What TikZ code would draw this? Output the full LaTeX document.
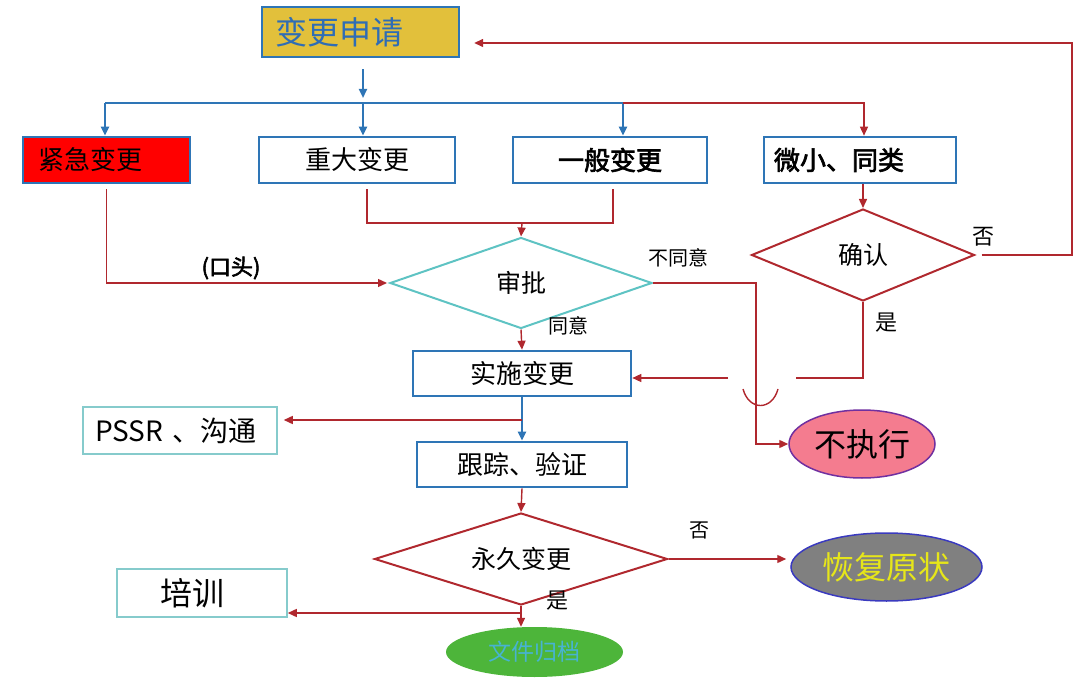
\documentclass[tikz,border=0pt]{standalone}
\usepackage{fontspec}
\setmainfont{Noto Sans CJK SC}
\newfontfamily\boldcjk[FakeBold=2.5]{Noto Sans CJK SC}
\usepackage{tikz}
\usetikzlibrary{arrows.meta, positioning, calc, shapes.geometric}
\definecolor{flowblue}{HTML}{2E75B6}
\definecolor{flowred}{HTML}{B0282E}
\definecolor{flowteal}{HTML}{5EC3C3}
\definecolor{paleteal}{HTML}{86CBCC}
\definecolor{reqgold}{HTML}{E2C03B}
\definecolor{reqtext}{HTML}{2F6DB5}
\definecolor{rejectpink}{HTML}{F47C8F}
\definecolor{rejectedge}{HTML}{7030A0}
\definecolor{restoregray}{HTML}{808080}
\definecolor{restoreedge}{HTML}{3A3ABF}
\definecolor{restoretext}{HTML}{E6E619}
\definecolor{archgreen}{HTML}{4DB53A}
\definecolor{archtext}{HTML}{47B3D2}
\tikzstyle{flowarrow} = [-{Triangle[length=9pt, width=8pt]}]
\newcommand{\fsz}[1]{\fontsize{#1}{#1}\selectfont}

\begin{document}
\begin{tikzpicture}[x=1pt, y=-1pt,
bluebox/.style={draw=flowblue, line width=2.6pt, fill=white, inner sep=0pt, minimum height=46pt, font=\fsz{26}},
tealbox/.style={draw=paleteal, line width=1.5pt, inner sep=0pt, minimum height=48pt},
decision/.style={diamond, aspect=3, draw=flowred, line width=2pt, inner sep=0pt, font=\fsz{25}},
blueline/.style={draw=flowblue, line width=2.2pt},
redline/.style={draw=flowred, line width=1.4pt},
lbl/.style={inner sep=0pt, font=\fsz{20}}
]
    \useasboundingbox (0, 0) rectangle (1080, 690);

    % Request and categories
    \node (req) [draw=flowblue, line width=2.4pt, fill=reqgold, text=reqtext, font=\fsz{32},
        minimum height=50pt, text width=171pt, inner xsep=13pt, inner ysep=0pt, align=left] at (360.5, 32) {变更申请};
    \node (urgent) [bluebox, fill=red, text width=137pt, inner xsep=15pt, align=left] at (106.5, 160) {紧急变更};
    \node (major) [bluebox, minimum width=196pt] at (357, 160) {重大变更};
    \node (general) [bluebox, minimum width=194pt] at (610, 160) {\boldcjk 一般变更};
    \node (minor) [bluebox, text width=172pt, inner xsep=10pt, align=left] at (860, 160) {\boldcjk 微小、同类};

    \coordinate (bus) at (363, 103);
    \coordinate (busL) at (105, 103);
    \coordinate (busM) at (623, 103);
    \coordinate (busR) at (864, 103);
    \draw [blueline, flowarrow, shorten <=11pt, shorten >=5pt] (req.south -| bus) -- (bus);
    \draw [blueline] (busL) -- (busM);
    \draw [blueline, flowarrow] (busL) -- (busL |- urgent.north);
    \draw [blueline, flowarrow] (bus) -- (bus |- major.north);
    \draw [blueline, flowarrow] (busM) -- (busM |- general.north);
    \draw [redline, flowarrow] (busM) -- (busR) -- (busR |- minor.north);

    % Decisions
    \node (confirm) [decision, minimum width=223pt, minimum height=92pt] at (863, 255) {确认};
    \node (approve) [decision, draw=flowteal, minimum width=262pt, minimum height=91pt] at (521, 283) {审批};
    \node (perm) [decision, minimum width=293pt, minimum height=92pt] at (521, 559) {永久变更};

    \draw [redline, flowarrow] (minor.south -| confirm.north) -- (confirm.north);
    \coordinate (ret) at (1072, 43);
    \draw [redline, flowarrow, shorten <=6pt, shorten >=14pt] (confirm.east) -| (ret) -- (ret -| req.east);
    \node [lbl, font=\fsz{22}] at (983, 237) {否};

    \coordinate (mj) at ($(major.south)+(10, 5)$);
    \coordinate (gj) at ($(general.south)+(3, 5)$);
    \coordinate (join) at (522, 223);
    \draw [redline] (mj) |- (gj |- join) -- (gj);
    \draw [redline, flowarrow] (join) -- (approve.north);

    \draw [redline, flowarrow, shorten >=2pt] ($(urgent.south)+(0, 5)$) |- (approve.west);
    \node [lbl, font=\boldcjk\fsz{22}] at (231, 268) {(口头)};

    % Implementation
    \node (impl) [bluebox, minimum width=218pt, minimum height=45pt] at (522, 373.5) {实施变更};
    \node (reject) [ellipse, draw=rejectedge, line width=1.5pt, fill=rejectpink, minimum width=146pt,
        minimum height=68pt, inner sep=0pt, font=\fsz{32}] at (862, 444) {不执行};

    \draw [redline, flowarrow] (approve.south) -- (impl.north);
    \node [lbl] at (568, 326) {同意};
    \node [lbl] at (678, 258) {不同意};
    \coordinate (nope) at (756, 283);
    \draw [redline, flowarrow] (approve.east) -- (nope) |- (reject.west);

    \coordinate (jr) at (796, 378);
    \coordinate (jl) at (728, 378);
    \draw [redline] (confirm.south) |- (jr);
    \draw [redline, flowarrow] (jl) -- (jl -| impl.east);
    \draw [redline] (743, 389) .. controls (749, 411) and (772, 411) .. (778, 389);
    \node [lbl, font=\fsz{22}] at (886, 323) {是};

    % Follow-up
    \node (pssr) [tealbox, text width=170pt, inner xsep=12pt, align=left, minimum height=47pt, font=\fsz{28}] at (180, 430.5) {PSSR 、沟通};
    \node (track) [bluebox, minimum width=210pt, minimum height=45pt] at (522, 464.5) {跟踪、验证};
    \draw [blueline, flowarrow] (impl.south) -- (track.north);
    \coordinate (pj) at (522, 420);
    \draw [redline, flowarrow, shorten >=6pt] (pj) -- (pj -| pssr.east);
    \draw [redline, flowarrow] (track.south) -- (perm.north);

    \node (restore) [ellipse, draw=restoreedge, line width=1.5pt, fill=restoregray, text=restoretext,
        minimum width=191pt, minimum height=68pt, inner sep=0pt, font=\fsz{32}] at (886.5, 567) {恢复原状};
    \draw [redline, flowarrow, shorten >=4pt] (perm.east) -- (perm.east -| restore.west);
    \node [lbl] at (699, 530) {否};

    \node (archive) [ellipse, fill=archgreen, text=archtext, minimum width=177pt, minimum height=50pt,
        inner sep=0pt, font=\fsz{23}] at (534.5, 652) {文件归档};
    \draw [redline, flowarrow] (perm.south) -- (perm.south |- archive.north);
    \node [lbl, font=\fsz{22}] at (557, 601) {是};

    \node (train) [tealbox, text width=84pt, inner xsep=43pt, align=left, font=\fsz{32}] at (202, 593) {培训};
    \coordinate (tj) at (521, 613);
    \draw [redline, flowarrow] (tj) -- (tj -| train.east);
\end{tikzpicture}
\end{document}
